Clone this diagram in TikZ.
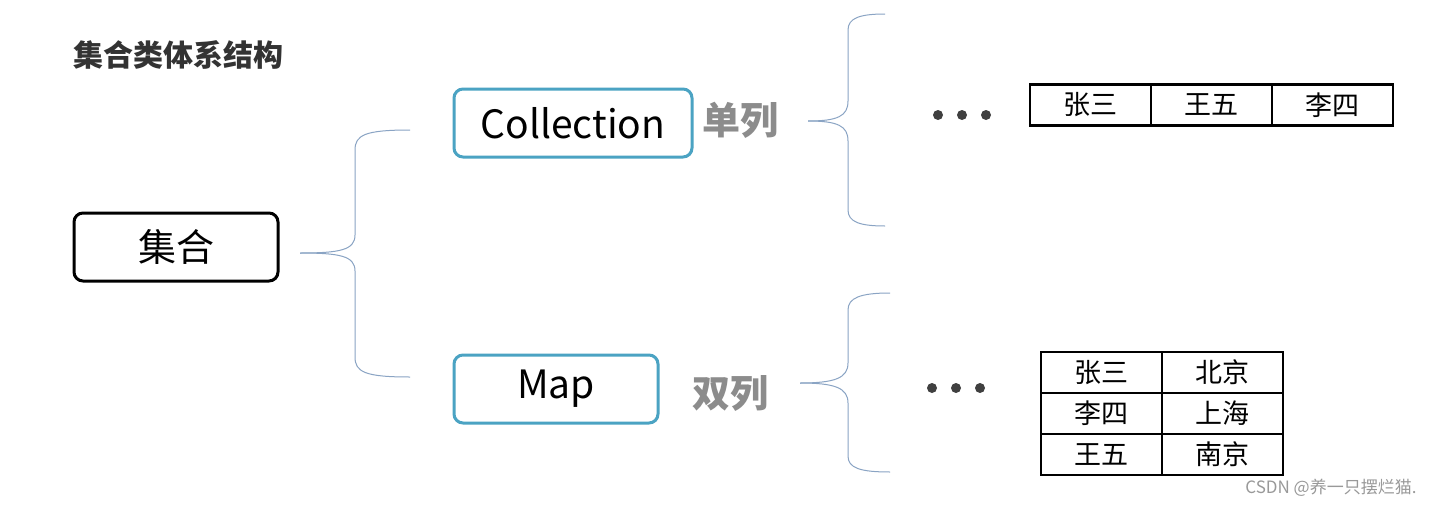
\documentclass[tikz,border=0pt]{standalone}
\usepackage{fontspec}
\setmainfont{Noto Sans CJK SC}
\begin{document}
\begin{tikzpicture}[x=1pt,y=-1pt,
  box/.style={draw=black,line width=3pt,rounded corners=9pt,inner sep=0pt},
  bbox/.style={draw=boxblue,line width=3pt,rounded corners=9pt,inner sep=0pt},
  brace/.style={draw=bracec,line width=1pt},
  lab/.style={font=\bfseries\fontsize{38}{40}\selectfont,text=gray!90},
  cell/.style={draw=black,line width=2.5pt,minimum width=121pt,minimum height=41pt,inner sep=0pt,font=\fontsize{27}{29}\selectfont},
  dots/.style={font=\fontsize{40}{40}\selectfont,text=darkgray}]
\definecolor{boxblue}{HTML}{4BA3C3}
\definecolor{bracec}{HTML}{8AA4C4}
\useasboundingbox (0,0) rectangle (1432,506);
\fill[white] (0,0) rectangle (1432,506);
\node[font=\bfseries\fontsize{30}{32}\selectfont,text=black!80,anchor=west] (title) at (70,55) {集合类体系结构};
\node[box,minimum width=204pt,minimum height=68pt,font=\fontsize{38}{40}\selectfont] (root) at (176,247) {集合};
\node[bbox,minimum width=238pt,minimum height=68pt,font=\fontsize{39}{41}\selectfont] (coll) at (573,123) {Collection};
\node[bbox,minimum width=204pt,minimum height=68pt,font=\fontsize{39}{41}\selectfont] (map) at (556,389) {Map};
\node[lab] (single) at (740,120) {单列};
\node[lab] (double) at (730,393) {双列};
\coordinate (b1) at (300,253); \coordinate (b1t) at (410,130); \coordinate (b1b) at (410,377);
\draw[brace] (b1) .. controls (340,253) and (355,250) .. (355,235) -- (355,150) .. controls (355,135) and (365,130) .. (b1t);
\draw[brace] (b1) .. controls (340,253) and (355,256) .. (355,271) -- (355,357) .. controls (355,372) and (365,377) .. (b1b);
\coordinate (b2) at (808,121); \coordinate (b2t) at (885,14); \coordinate (b2b) at (885,226);
\draw[brace] (b2) .. controls (838,121) and (848,116) .. (848,101) -- (848,30) .. controls (848,18) and (860,14) .. (b2t);
\draw[brace] (b2) .. controls (838,121) and (848,126) .. (848,141) -- (848,210) .. controls (848,222) and (860,226) .. (b2b);
\coordinate (b3) at (800,383); \coordinate (b3t) at (890,293); \coordinate (b3b) at (890,472);
\draw[brace] (b3) .. controls (835,383) and (848,378) .. (848,363) -- (848,310) .. controls (848,298) and (860,293) .. (b3t);
\draw[brace] (b3) .. controls (835,383) and (848,388) .. (848,403) -- (848,456) .. controls (848,468) and (860,472) .. (b3b);
\foreach \x in {938,962,986} \fill[black!75] (\x,115) circle (5pt);
\foreach \x in {932,956,980} \fill[black!75] (\x,388) circle (5pt);
\node[cell] (t1a) at (1090.5,105) {张三};
\node[cell] (t1b) at (1211.5,105) {王五};
\node[cell] (t1c) at (1332.5,105) {李四};
\node[cell] (t2a) at (1101.5,372.5) {张三};
\node[cell] (t2b) at (1222.5,372.5) {北京};
\node[cell] (t2c) at (1101.5,413.5) {李四};
\node[cell] (t2d) at (1222.5,413.5) {上海};
\node[cell] (t2e) at (1101.5,454.5) {王五};
\node[cell] (t2f) at (1222.5,454.5) {南京};
\node[font=\fontsize{17}{19}\selectfont,text=gray!80,anchor=east] (wm) at (1420,488) {CSDN @养一只摆烂猫.};
\end{tikzpicture}
\end{document}
